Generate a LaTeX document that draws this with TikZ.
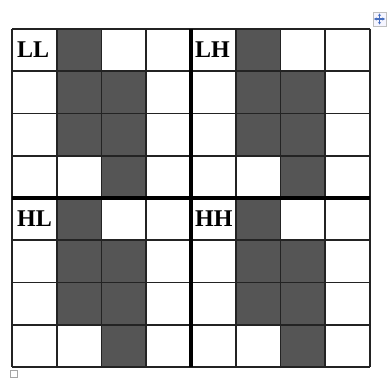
\documentclass[tikz,border=0pt]{standalone}
\usepackage{fontspec}
\setmainfont{Liberation Serif}
\usetikzlibrary{arrows.meta}
\definecolor{cellgray}{RGB}{85,85,85}
\definecolor{gridline}{RGB}{35,35,35}
\definecolor{handleblue}{RGB}{70,110,190}
\tikzset{
  darkcell/.style={fill=cellgray},
  thinline/.style={draw=gridline,line width=1.6pt},
  thickline/.style={draw=black,line width=4.2pt},
  qlabel/.style={anchor=west,inner sep=0pt,font=\fontsize{24}{24}\selectfont\bfseries},
  handlebox/.style={draw=gray!50,fill=blue!4,line width=0.8pt},
  handlearrow/.style={draw=handleblue,line width=1.4pt,-{Stealth[length=2.5pt,width=3pt]}},
  anchorbox/.style={draw=gray!70,fill=white,line width=0.8pt}
}
\begin{document}
\begin{tikzpicture}[x=1pt,y=-1pt]
\useasboundingbox (0,0) rectangle (391,379);
\fill[white] (0,0) rectangle (391,379);
\def\cw{44.75}
\def\ch{42.25}
% dark cells, same pattern in each quadrant
\foreach \qx in {0,4}{
  \foreach \qy in {0,4}{
    \foreach \c/\r in {1/0,1/1,2/1,1/2,2/2,2/3}{
      \fill[darkcell] ({12+(\qx+\c)*\cw},{29+(\qy+\r)*\ch}) rectangle ++(\cw,\ch);
    }
  }
}
% thin grid
\foreach \i in {0,...,8}{
  \draw[thinline] ({12+\i*\cw},29) -- ({12+\i*\cw},367);
  \draw[thinline] (12,{29+\i*\ch}) -- (370,{29+\i*\ch});
}
% thick dividers
\draw[thickline] (191,29) -- (191,367);
\draw[thickline] (12,198) -- (370,198);
% labels
\node[qlabel] (LL) at (17,50) {LL};
\node[qlabel] (LH) at (195,50) {LH};
\node[qlabel] (HL) at (17,219) {HL};
\node[qlabel] (HH) at (195,219) {HH};
% table move handle
\draw[handlebox] (373,12) rectangle (386,26);
\coordinate (hc) at (379.5,19);
\draw[handlearrow] (hc) -- ++(0,-5.5);
\draw[handlearrow] (hc) -- ++(0,5.5);
\draw[handlearrow] (hc) -- ++(-5.5,0);
\draw[handlearrow] (hc) -- ++(5.5,0);
% resize handle
\draw[anchorbox] (10,370) rectangle (17,377);
\end{tikzpicture}
\end{document}
